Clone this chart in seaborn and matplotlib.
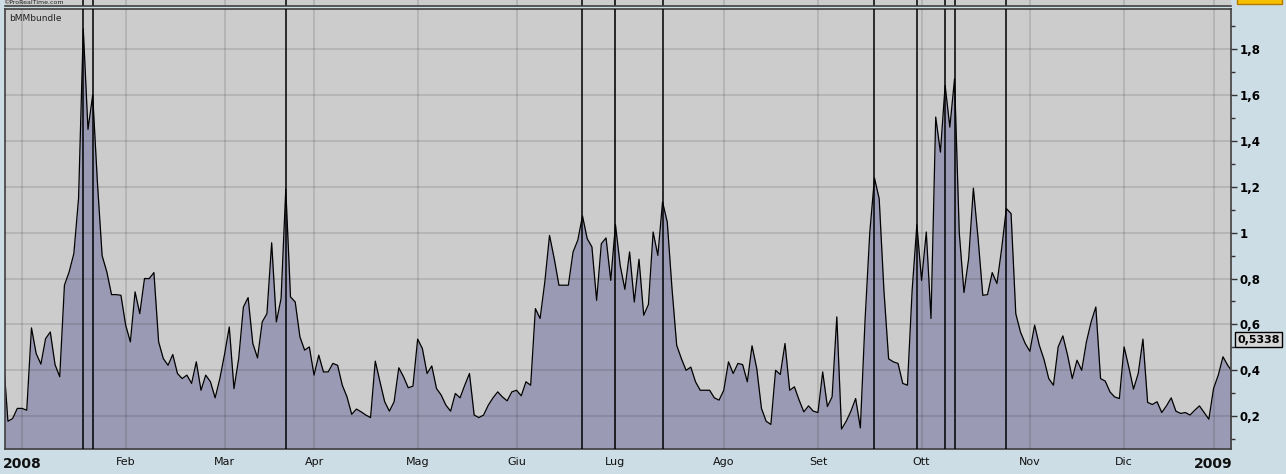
import pandas as pd
import matplotlib
matplotlib.use("Agg")
import matplotlib.pyplot as plt
import matplotlib.ticker as mticker
from matplotlib.patches import Rectangle
import seaborn as sns

# daily bMMbundle readings, split by period
vals_dec07 = [0.466, 0.178, 0.19, 0.234]
vals_q1 = [0.234, 0.226, 0.585, 0.473, 0.427, 0.538, 0.567, 0.425, 0.372, 0.771,
           0.829, 0.909, 1.15, 1.888, 1.45, 1.60, 1.22, 0.90, 0.829, 0.73,
           0.73, 0.727, 0.597, 0.524, 0.742, 0.647, 0.80, 0.80, 0.826, 0.524,
           0.451, 0.422, 0.469, 0.386, 0.364, 0.379, 0.343, 0.437, 0.313, 0.379,
           0.35, 0.28, 0.364, 0.47, 0.589, 0.32, 0.451, 0.676, 0.717, 0.517,
           0.454, 0.611, 0.647, 0.956, 0.611, 0.713, 1.19, 0.72, 0.698, 0.546,
           0.488, 0.502]
vals_q2 = [0.379, 0.466, 0.393, 0.393, 0.43, 0.422, 0.335, 0.284, 0.208, 0.231,
           0.219, 0.205, 0.194, 0.44, 0.35, 0.263, 0.222, 0.263, 0.411, 0.372,
           0.324, 0.331, 0.536, 0.495, 0.386, 0.419, 0.321, 0.292, 0.248, 0.222,
           0.299, 0.28, 0.335, 0.386, 0.205, 0.194, 0.205, 0.248, 0.28, 0.306,
           0.284, 0.267, 0.306, 0.313, 0.289, 0.35, 0.335, 0.669, 0.626, 0.785,
           0.988, 0.887, 0.771, 0.771, 0.771, 0.916, 0.967, 1.073, 0.974, 0.938,
           0.705, 0.952, 0.977, 0.792]
vals_q3 = [1.035, 0.858, 0.753, 0.916, 0.698, 0.884, 0.64, 0.687, 1.003, 0.901,
           1.134, 1.046, 0.758, 0.509, 0.451, 0.40, 0.414, 0.35, 0.313, 0.313,
           0.313, 0.28, 0.27, 0.313, 0.437, 0.386, 0.43, 0.425, 0.35, 0.507,
           0.408, 0.234, 0.178, 0.164, 0.40, 0.382, 0.517, 0.313, 0.328, 0.27,
           0.219, 0.245, 0.222, 0.216, 0.393, 0.242, 0.284, 0.633, 0.144, 0.178,
           0.222, 0.277, 0.149, 0.62, 1.0, 1.238, 1.148, 0.75, 0.45, 0.437,
           0.43, 0.343, 0.335, 0.75, 1.035]
vals_q4 = [0.792, 1.003, 0.626, 1.504, 1.351, 1.642, 1.46, 1.671, 1.0, 0.739,
           0.887, 1.194, 0.974, 0.727, 0.73, 0.826, 0.778, 0.93, 1.105, 1.083,
           0.647, 0.567, 0.517, 0.483, 0.597, 0.509, 0.447, 0.364, 0.335, 0.502,
           0.55, 0.466, 0.364, 0.444, 0.40, 0.524, 0.611, 0.676, 0.364, 0.353,
           0.306, 0.284, 0.277, 0.502, 0.414, 0.318, 0.386, 0.536, 0.26, 0.251,
           0.263, 0.216, 0.245, 0.28, 0.222, 0.212, 0.216, 0.205, 0.226, 0.245,
           0.216, 0.187]
vals_jan09 = [0.321, 0.379, 0.459, 0.422, 0.393]

# exchange holidays (no bars on these days)
holidays = ["2007-12-24", "2007-12-25", "2007-12-26", "2007-12-31", "2008-01-01",
            "2008-03-21", "2008-03-24", "2008-05-01", "2008-08-15", "2008-12-24",
            "2008-12-25", "2008-12-26", "2008-12-31", "2009-01-01"]

# dates of the vertical signal lines
events = ["2008-01-21", "2008-01-23", "2008-03-20", "2008-06-20", "2008-07-01",
          "2008-07-15", "2008-09-17", "2008-09-30", "2008-10-08", "2008-10-10",
          "2008-10-27"]

month_names = ["Gen", "Feb", "Mar", "Apr", "Mag", "Giu",
               "Lug", "Ago", "Set", "Ott", "Nov", "Dic"]
last_value = 0.5338

values = vals_dec07 + vals_q1 + vals_q2 + vals_q3 + vals_q4 + vals_jan09
dates = pd.bdate_range("2007-12-20", periods=len(values), freq="C", holidays=holidays)
df = pd.DataFrame({"date": dates, "value": values})
df["pos"] = range(len(df))

# month starts -> tick positions
first = df[df.date >= "2008-01-01"].groupby(df.date.dt.to_period("M")).first()
tick_pos = list(first.pos)
tick_lab = [str(d.year) if d.month == 1 else month_names[d.month - 1] for d in first.date]
event_pos = [df.loc[df.date == pd.Timestamp(e), "pos"].iloc[0] for e in events]

sns.set_style("white")
plt.rcParams["font.family"] = ["DejaVu Sans"]

W, H = 1286, 474
fig = plt.figure(figsize=(W / 100, H / 100), dpi=100)
fig.patch.set_facecolor("#cddde6")

L, R, T, B = 5, 1231, 9, 449
ax = fig.add_axes([L / W, 1 - B / H, (R - L) / W, (B - T) / H])
ax.set_facecolor("#cccccc")

ymin, ymax = 0.057, 1.975
ax.fill_between(df.pos, df.value, ymin, color="#9a9ab4", lw=0, zorder=1)
sns.lineplot(data=df, x="pos", y="value", ax=ax, color="black", lw=0.9, zorder=2)

for p in event_pos:
    ax.axvline(p, color="black", lw=1.1, zorder=4)

ax.set_xlim(0.38, 260.7)
ax.set_ylim(ymin, ymax)
ax.set_xlabel("")
ax.set_ylabel("")

ax.set_xticks(tick_pos)
ax.set_xticklabels(tick_lab)
ax.yaxis.set_major_locator(mticker.MultipleLocator(0.2))
ax.yaxis.set_minor_locator(mticker.MultipleLocator(0.1))
ax.yaxis.set_major_formatter(mticker.FuncFormatter(lambda v, _: f"{v:g}".replace(".", ",")))
ax.yaxis.tick_right()

ax.set_axisbelow(False)
ax.grid(True, which="major", color="black", alpha=0.12, lw=1.3)
ax.tick_params(axis="y", which="major", direction="out", length=4, width=1,
               color="#333333", pad=2, labelsize=8.5, labelcolor="black")
ax.tick_params(axis="y", which="minor", direction="out", length=3, width=1, color="#333333")
ax.tick_params(axis="x", direction="out", length=3, width=1, color="#555555",
               pad=3, labelsize=8, labelcolor="#111111")
for t in ax.get_yticklabels():
    t.set_fontweight("bold")
for t in ax.get_xticklabels():
    if t.get_text().isdigit():
        t.set_fontweight("bold")
        t.set_fontsize(10)

for s in ax.spines.values():
    s.set_color("#404040")
    s.set_linewidth(1.2)

ax.text(0.003, 0.988, "bMMbundle", transform=ax.transAxes, va="top", ha="left",
        fontsize=6.5, color="#222222")

ax.text(1.0049, last_value, f"{last_value:.4f}".replace(".", ","),
        transform=ax.get_yaxis_transform(), ha="left", va="center",
        fontsize=8, fontweight="bold", color="black",
        bbox=dict(boxstyle="square,pad=0.2", fc="#d6d6d6", ec="black", lw=1))

# header strip above the chart
hax = fig.add_axes([L / W, 1 - 6 / H, (R - L) / W, 6 / H])
hax.set_facecolor("#cccccc")
hax.set_xlim(ax.get_xlim())
hax.set_ylim(0, 1)
hax.set_xticks([])
hax.set_yticks([])
for p in tick_pos:
    hax.axvline(p, color="black", alpha=0.12, lw=1.3)
for p in event_pos:
    hax.axvline(p, color="black", lw=1.1)
for s in hax.spines.values():
    s.set_visible(False)
hax.spines["bottom"].set_visible(True)
hax.spines["bottom"].set_color("#404040")
hax.spines["bottom"].set_linewidth(1.2)
fig.text(3 / W, 1 - 0.5 / H, "\u00a9ProRealTime.com", ha="left", va="top",
         fontsize=4.5, color="#222222")

fig.patches.append(Rectangle((1237 / W, 1 - 4 / H), 45 / W, 6 / H,
                             transform=fig.transFigure, facecolor="#f5c000",
                             edgecolor="#b07800", lw=1))

fig.savefig("out.png", dpi=100, facecolor=fig.get_facecolor())
